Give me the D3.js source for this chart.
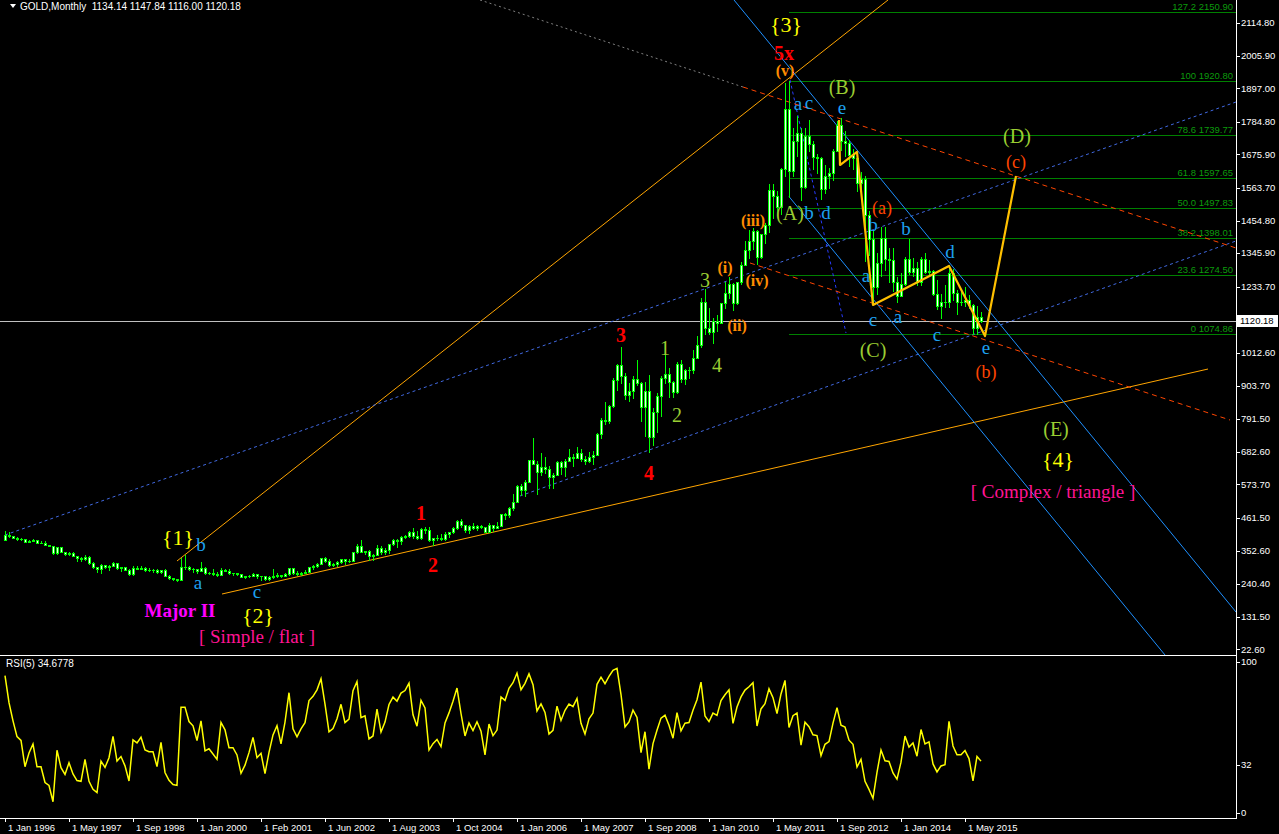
<!DOCTYPE html>
<html><head><meta charset="utf-8">
<script src="https://d3js.org/d3.v7.min.js"></script>
<style>html,body{margin:0;padding:0;background:#000;overflow:hidden}svg{display:block}</style>
</head><body>
<svg id="chart" width="1279" height="834"></svg>
<script>
// ---------------- DATA ----------------
const symbolTitle = "GOLD,Monthly";
const ohlcTitle = "1134.14 1147.84 1116.00 1120.18";
const rsiTitle = "RSI(5) 34.6778";
const rsiPeriod = 5;
const lastPrice = 1120.18;

// closes of Jul-Dec 1995, only used to warm up the RSI
const rsiWarmupCloses = [383.4, 382.4, 384.0, 382.7, 387.6, 387.0];

const opens = [387,405,400,396,392,391,382,385,387,379,379,371,
369,345,364,348,340,345,334,326,325,332,311,297,
290,303,297,301,311,294,296,289,273,294,292,295,
288,287,287,280,287,269,261,256,255,299,299,292,
290,283,294,277,278,275,272,288,285,277,277,274,264,266,269,273,
266,267,258,263,268,271,266,273,293,279,275,279,282,297,301,308,
327,318,305,307,313,324,317,319,347,368,348,350,335,337,361,346,
355,376,388,386,398,402,416,402,396,424,420,388,393,396,391,407,
416,429,452,438,422,434,429,436,431,415,437,429,433,473,471,496,
513,569,556,582,654,643,614,633,624,599,604,647,632,651,664,662,
677,659,650,666,673,743,790,784,834,923,972,934,871,886,925,913,
833,885,731,815,870,928,942,917,883,976,927,954,956,996,1040,1182,
1097,1081,1118,1113,1179,1212,1244,1181,1248,1307,1357,1385,1421,1332,1410,1439,
1556,1536,1500,1628,1826,1620,1722,1746,1566,1737,1711,1668,1664,1560,1604,1614,
1687,1773,1719,1713,1675,1663,1579,1595,1473,1393,1234,1312,1395,1327,1323,1250,
1202,1244,1326,1284,1296,1250,1327,1282,1287,1210,1171,1182,1184,1279,1213,1183,
1183,1190,1172,1095,1134.14];
const highs = [418,416,401,398,394,392,388,391,388,385,385,372,
369,366,365,348,349,346,335,330,336,333,313,298,
306,304,303,315,311,296,297,290,300,302,301,296,
293,291,290,289,291,270,262,259,328,339,301,293,
292,313,296,280,290,280,295,290,291,279,279,275,268,271,277,273,
268,269,266,292,276,272,279,294,294,285,281,288,299,305,310,328,
332,323,310,317,325,325,323,349,373,389,352,353,341,372,369,362,
376,392,391,400,404,417,427,417,429,431,431,396,404,409,416,416,
432,456,457,439,438,445,438,437,432,443,438,447,475,479,497,541,
570,575,587,654,730,652,677,664,635,610,650,650,658,691,674,697,
692,670,683,684,745,795,848,838,930,976,1033,947,911,934,989,917,
915,940,830,880,936,1006,962,920,981,990,960,964,1024,1070,1195,1227,
1162,1128,1140,1180,1249,1266,1245,1250,1315,1388,1424,1431,1424,1411,1447,1576,
1577,1553,1632,1913,1920.8,1764,1803,1764,1764,1791,1719,1677,1668,1642,1630,1693,
1788,1796,1755,1723,1695,1684,1617,1605,1488,1424,1348,1434,1434,1362,1362,1267,
1280,1332,1392,1331,1315,1332,1345,1323,1291,1256,1208,1239,1307,1294,1224,1224,
1232,1205,1175,1170,1147.84];
const lows = [387,398,393,389,387,380,380,385,378,377,370,367,
342,341,347,336,337,333,318,318,320,308,294,282,
278,293,289,301,292,285,286,272,272,290,290,284,
283,281,278,277,267,257,253,251,253,291,289,281,
279,283,274,274,272,268,270,283,275,271,271,263,262,263,267,262,
255,255,254,262,265,263,266,271,275,272,271,276,282,290,298,307,
313,300,302,302,311,309,315,317,343,346,342,320,322,337,342,341,
345,370,366,376,394,398,396,392,392,410,385,371,389,387,387,397,
411,423,432,414,411,425,420,428,413,414,418,429,433,457,465,489,
513,538,536,581,642,543,606,611,561,560,604,608,603,650,636,661,
651,641,648,642,672,729,775,778,833,890,911,859,851,861,905,786,
736,681,705,749,802,913,865,866,880,915,908,929,946,996,1033,1075,
1075,1045,1086,1111,1163,1197,1155,1176,1242,1307,1330,1360,1309,1330,1381,1418,
1462,1478,1478,1604,1535,1603,1670,1523,1565,1688,1628,1613,1527,1548,1564,1590,
1686,1691,1672,1636,1627,1555,1562,1321,1339,1180,1208,1271,1291,1251,1221,1182,
1202,1238,1277,1268,1240,1240,1281,1273,1205,1161,1131,1167,1167,1190,1142,1174,
1169,1162,1074.86,1077,1116.00];
const closes = [405,400,396,392,391,382,385,387,379,379,371,369,
345,364,348,340,345,334,326,325,332,311,297,290,
303,297,301,311,294,296,289,273,294,292,295,288,
287,287,280,287,269,261,256,255,299,299,292,290,
283,294,277,278,275,272,288,285,277,277,274,264,266,269,273,266,
267,258,263,268,271,266,273,293,279,275,279,282,297,301,308,327,
318,305,307,313,324,317,319,347,368,348,350,335,337,361,346,355,
376,388,386,398,402,416,402,396,424,420,388,393,396,391,407,416,
429,452,438,422,434,429,436,431,415,437,429,433,473,471,496,513,
569,556,582,654,643,614,633,624,599,604,647,632,651,664,662,677,
659,650,666,673,743,790,784,834,923,972,934,871,886,925,913,833,
885,731,815,870,928,942,917,883,976,927,954,956,996,1040,1182,1097,
1081,1118,1113,1179,1212,1244,1181,1248,1307,1357,1385,1421,1332,1410,1439,1556,
1536,1500,1628,1826,1620,1722,1746,1566,1737,1711,1668,1664,1560,1604,1614,1687,
1773,1719,1713,1675,1663,1579,1595,1473,1393,1234,1312,1395,1327,1323,1250,1202,
1244,1326,1284,1296,1250,1327,1282,1287,1210,1171,1182,1184,1279,1213,1183,1183,
1190,1172,1095,1134,1120.18];

// time axis: one label every 16 bars
const timeTickBars = [0,16,32,48,64,80,96,112,128,144,160,176,192,208,224,240];
const timeTickLabels = ["1 Jan 1996","1 May 1997","1 Sep 1998","1 Jan 2000","1 Feb 2001","1 Jun 2002","1 Aug 2003","1 Oct 2004","1 Jan 2006","1 May 2007","1 Sep 2008","1 Jan 2010","1 May 2011","1 Sep 2012","1 Jan 2014","1 May 2015"];
const priceTickLabels = ["2114.80","2005.90","1897.00","1784.80","1675.90","1563.70","1454.80","1345.90","1233.70","1012.60","903.70","791.50","682.60","573.70","461.50","352.60","240.40","131.50","22.60"];
const rsiTickValues = [100,32,0];

// Fibonacci retracement (anchored at the Sep 2011 bar)
const fibAnchorBar = 196;
const fibLevels = ["127.2","100","78.6","61.8","50.0","38.2","23.6","0"];
const fibPrices = [2150.90,1920.80,1739.77,1597.65,1497.83,1398.01,1274.50,1074.86];

// trend lines: [bar, price] end points
const orangeTrends = [[[43,317.6],[220.75,2191.7]], [[54.25,207.3],[300.75,958.9]]];
const blueDotTrends = [[[0,404.4],[307.75,1850.9]], [[128.75,534.7],[307.75,1386.6]]];
const darkBlueDotTrends = [[[196.25,1924.8],[210.25,1079.2]]];
const channelTrends = [[[182.25,2191.7],[307.75,147.2]], [[196,1535],[290,3.6]]];
const greyDotTrends = [[[118.75,2191.7],[184.5,1901]]];
const redDashTrends = [[[184.5,1901],[307.75,1363.2]], [[186.25,1313.1],[306.25,788.6]]];
const wavePath = [[208.5,1790.8],[208.75,1640.4],[213,1683.9],[217,1172.8],[236,1303.1],[245,1069.2],[252.75,1603.7]];

// wave labels: [text, bar, price]
const cycleLabels = [["{1}",43.25,394.4],["{2}",63.25,133.8],["{3}",195.25,2108.1],["{4}",263.25,655.0]];
const primaryLabels = [["1",104,477.9],["2",107,304.2],["3",154,1072.5],["4",161,611.5],["5x",194.75,2014.6]];
const intermediateLabels = [["1",165,1029.1],["2",168,805.3],["3",175,1256.3],["4",178,972.3],["(A)",196.25,1480.1],["(B)",209.25,1898.0],["(C)",217,1022.4],["(D)",253,1737.3],["(E)",262.75,758.5]];
const minorLabels = [["(i)",180,1296.4],["(ii)",183,1102.6],["(iii)",187,1453.4],["(iv)",188,1253.0],["(v)",195,1954.4]];
const minuteLabels = [["(a)",219.25,1498.0],["(b)",245.25,949.0],["(c)",252.75,1650.5]];
const subLabels = [["b",49,371.0],["a",48.25,237.4],["c",63,207.3],["a",198.25,1837.6],["c",201,1840.9],["e",209.25,1825.0],["b",201,1480.1],["d",205.25,1480.1],["b",217,1440.0],["b",225.25,1426.7],["d",236.25,1349.8],["a",215.25,1263.0],["c",217,1116.0],["a",223.25,1126.0],["c",233,1065.9],["e",245.25,1022.4]];
const degreeLabels = [["Major II",43.75,150.5]];
const patternLabels = [["[ Simple / flat ]",63,63.7],["[ Complex / triangle ]",262,548.1]];

// ---------------- LAYOUT ----------------
const W = 1279, H = 834;
const PR = 1236;          // right edge of plot
const MB = 655;           // bottom of price pane
const RT = 657, RB = 817; // rsi pane
const AX = 818;           // time axis line
const UI = "'Liberation Sans', Arial, sans-serif";
const SERIF = "'Liberation Serif', 'Times New Roman', serif";

const svg = d3.select('#chart');
svg.append('rect').attr('width', W).attr('height', H).attr('fill', '#000');

const xS = d3.scaleLinear().domain([0, 307.75]).range([5, PR]);
const yS = d3.scaleLinear().domain([22.6, 2114.8]).range([649.3, 23]);
const rS = d3.scaleLinear().domain([0, 100]).range([813, 662]);

const defs = svg.append('defs');
defs.append('clipPath').attr('id', 'mainClip').append('rect').attr('x', 0).attr('y', 0).attr('width', PR).attr('height', MB);
defs.append('clipPath').attr('id', 'rsiClip').append('rect').attr('x', 0).attr('y', RT).attr('width', PR).attr('height', RB - RT);

const main = svg.append('g').attr('clip-path', 'url(#mainClip)');
const lineGen = d3.line().x(d => xS(d[0])).y(d => yS(d[1]));
const px = v => Math.round(v) + 0.5;

// current price line
main.append('line').attr('x1', 0).attr('x2', PR).attr('y1', px(yS(lastPrice))).attr('y2', px(yS(lastPrice)))
  .attr('stroke', '#c0c0c0').attr('stroke-width', 1);

// fibonacci
const fibG = main.append('g');
fibG.selectAll('line').data(fibPrices).join('line')
  .attr('x1', xS(fibAnchorBar)).attr('x2', PR)
  .attr('y1', d => px(yS(d))).attr('y2', d => px(yS(d)))
  .attr('stroke', '#008000').attr('stroke-width', 1).attr('shape-rendering', 'crispEdges');
fibG.selectAll('text').data(fibPrices).join('text')
  .attr('x', PR - 3).attr('y', d => Math.round(yS(d)) - 2)
  .attr('text-anchor', 'end').attr('fill', '#0c9a0c')
  .attr('font-family', UI).attr('font-size', 9.5)
  .text((d, i) => fibLevels[i] + ' ' + d.toFixed(2));

function drawTrends(data, stroke, dash, width) {
  main.append('g').selectAll('path').data(data).join('path')
    .attr('d', d => lineGen(d)).attr('fill', 'none')
    .attr('stroke', stroke).attr('stroke-width', width || 1)
    .attr('stroke-dasharray', dash || null);
}
drawTrends(greyDotTrends, '#808080', '2,3');
drawTrends(orangeTrends, '#ffa500');
drawTrends(blueDotTrends, '#4169e1', '3,3');
drawTrends(darkBlueDotTrends, '#2a3cff', '3,3');
drawTrends(channelTrends, '#1e90ff');
drawTrends(redDashTrends, '#ff4500', '5,4');

// candles
const bars = d3.range(opens.length).map(i => ({i, o: opens[i], h: highs[i], l: lows[i], c: closes[i]}));
const cg = main.append('g').attr('shape-rendering', 'crispEdges');
cg.selectAll('line').data(bars).join('line')
  .attr('x1', d => Math.round(xS(d.i)) + 0.5).attr('x2', d => Math.round(xS(d.i)) + 0.5)
  .attr('y1', d => Math.round(yS(d.h))).attr('y2', d => Math.round(yS(d.l)) + 1)
  .attr('stroke', '#00ff00');
cg.selectAll('rect.body').data(bars).join('rect').attr('class', 'body')
  .attr('x', d => Math.round(xS(d.i)) - 1).attr('width', 3)
  .attr('y', d => Math.round(yS(Math.max(d.o, d.c))))
  .attr('height', d => Math.max(1, Math.round(yS(Math.min(d.o, d.c))) - Math.round(yS(Math.max(d.o, d.c))) + 1))
  .attr('fill', '#00ff00');
cg.selectAll('rect.inner').data(bars.filter(d => Math.round(yS(Math.min(d.o, d.c))) - Math.round(yS(Math.max(d.o, d.c))) >= 2)).join('rect').attr('class', 'inner')
  .attr('x', d => Math.round(xS(d.i))).attr('width', 1)
  .attr('y', d => Math.round(yS(Math.max(d.o, d.c))) + 1)
  .attr('height', d => Math.round(yS(Math.min(d.o, d.c))) - Math.round(yS(Math.max(d.o, d.c))) - 1)
  .attr('fill', d => d.c < d.o ? '#ffffff' : '#e8ffe8');

// wave path
main.append('path').attr('d', lineGen(wavePath)).attr('fill', 'none')
  .attr('stroke', '#ffc000').attr('stroke-width', 2.2).attr('stroke-linejoin', 'round');

// labels
function drawLabels(data, color, size, weight, dyFn) {
  main.append('g').selectAll('text').data(data).join('text')
    .attr('x', d => xS(d[1])).attr('y', d => yS(d[2]))
    .attr('dy', d => dyFn ? dyFn(d[0]) : '0.33em')
    .attr('text-anchor', 'middle').attr('fill', color)
    .attr('font-family', SERIF).attr('font-size', size).attr('font-weight', weight || 'normal')
    .text(d => d[0]);
}
drawLabels(cycleLabels, '#ffff00', 22);
drawLabels(primaryLabels, '#ff0000', 20, 'bold');
drawLabels(intermediateLabels, '#9acd32', 20);
drawLabels(minorLabels, '#ff8c00', 16, 'bold');
drawLabels(minuteLabels, '#ff4500', 18);
drawLabels(subLabels, '#1ea0f0', 19, 'normal', t => /[bd]/.test(t) ? '0.33em' : '0.22em');
drawLabels(degreeLabels, '#ff00ff', 19, 'bold');
drawLabels(patternLabels, '#ff1493', 19);

// ---------------- RSI ----------------
function wilderRsi(cl, n) {
  const out = new Array(cl.length).fill(null);
  let g = 0, l = 0;
  for (let i = 1; i <= n; i++) { const d = cl[i] - cl[i - 1]; if (d > 0) g += d; else l -= d; }
  g /= n; l /= n;
  out[n] = l === 0 ? 100 : 100 - 100 / (1 + g / l);
  for (let i = n + 1; i < cl.length; i++) {
    const d = cl[i] - cl[i - 1];
    g = (g * (n - 1) + (d > 0 ? d : 0)) / n;
    l = (l * (n - 1) + (d < 0 ? -d : 0)) / n;
    out[i] = l === 0 ? 100 : 100 - 100 / (1 + g / l);
  }
  return out;
}
const rsiVals = wilderRsi(rsiWarmupCloses.concat(closes), rsiPeriod).slice(rsiWarmupCloses.length);
const rsiG = svg.append('g').attr('clip-path', 'url(#rsiClip)');
rsiG.append('path')
  .attr('d', d3.line().defined(d => d[1] !== null).x(d => xS(d[0])).y(d => rS(d[1]))(rsiVals.map((v, i) => [i, v])))
  .attr('fill', 'none').attr('stroke', '#ffff00').attr('stroke-width', 1.5);

// ---------------- AXES / FRAME ----------------
const frame = svg.append('g').attr('shape-rendering', 'crispEdges');
frame.append('line').attr('x1', 0).attr('x2', PR).attr('y1', MB + 0.5).attr('y2', MB + 0.5).attr('stroke', '#ffffff');
frame.append('line').attr('x1', PR + 0.5).attr('x2', PR + 0.5).attr('y1', 0).attr('y2', AX + 1).attr('stroke', '#ffffff');
frame.append('line').attr('x1', 0).attr('x2', PR + 1).attr('y1', AX + 0.5).attr('y2', AX + 0.5).attr('stroke', '#ffffff');

// price axis
const pa = svg.append('g');
pa.selectAll('line').data(priceTickLabels).join('line')
  .attr('x1', PR + 1).attr('x2', PR + 4)
  .attr('y1', d => px(yS(+d))).attr('y2', d => px(yS(+d)))
  .attr('stroke', '#ffffff').attr('shape-rendering', 'crispEdges');
pa.selectAll('text').data(priceTickLabels).join('text')
  .attr('x', PR + 5).attr('y', d => yS(+d)).attr('dy', '0.35em')
  .attr('fill', '#ffffff').attr('font-family', UI).attr('font-size', 9.5)
  .text(d => d);
// last price box
pa.append('rect').attr('x', PR + 1).attr('y', Math.round(yS(lastPrice)) - 6).attr('width', 41).attr('height', 12).attr('fill', '#ffffff');
pa.append('text').attr('x', PR + 4).attr('y', yS(lastPrice)).attr('dy', '0.35em')
  .attr('fill', '#000000').attr('font-family', UI).attr('font-size', 9.5).text(lastPrice.toFixed(2));

// rsi axis
const ra = svg.append('g');
ra.selectAll('line').data(rsiTickValues).join('line')
  .attr('x1', PR + 1).attr('x2', PR + 4)
  .attr('y1', d => px(rS(d))).attr('y2', d => px(rS(d)))
  .attr('stroke', '#ffffff').attr('shape-rendering', 'crispEdges');
ra.selectAll('text').data(rsiTickValues).join('text')
  .attr('x', PR + 5).attr('y', d => rS(d)).attr('dy', '0.35em')
  .attr('fill', '#ffffff').attr('font-family', UI).attr('font-size', 9.5)
  .text(d => d);

// time axis
const ta = svg.append('g');
ta.selectAll('line').data(timeTickBars).join('line')
  .attr('x1', d => px(xS(d))).attr('x2', d => px(xS(d)))
  .attr('y1', AX).attr('y2', AX + 4)
  .attr('stroke', '#ffffff').attr('shape-rendering', 'crispEdges');
ta.selectAll('text').data(timeTickBars).join('text')
  .attr('x', d => Math.round(xS(d)) + 3).attr('y', AX + 13)
  .attr('fill', '#ffffff').attr('font-family', UI).attr('font-size', 9.5)
  .text((d, i) => timeTickLabels[i]);

// titles
svg.append('path').attr('d', 'M10,4 L16,4 L13,8 Z').attr('fill', '#ffffff');
svg.append('text').attr('x', 20).attr('y', 10).attr('fill', '#ffffff').attr('font-family', UI).attr('font-size', 10)
  .attr('xml:space', 'preserve').text(symbolTitle + '  ' + ohlcTitle);
svg.append('text').attr('x', 6).attr('y', 667).attr('fill', '#ffffff').attr('font-family', UI).attr('font-size', 10)
  .text(rsiTitle);
</script>
</body></html>
